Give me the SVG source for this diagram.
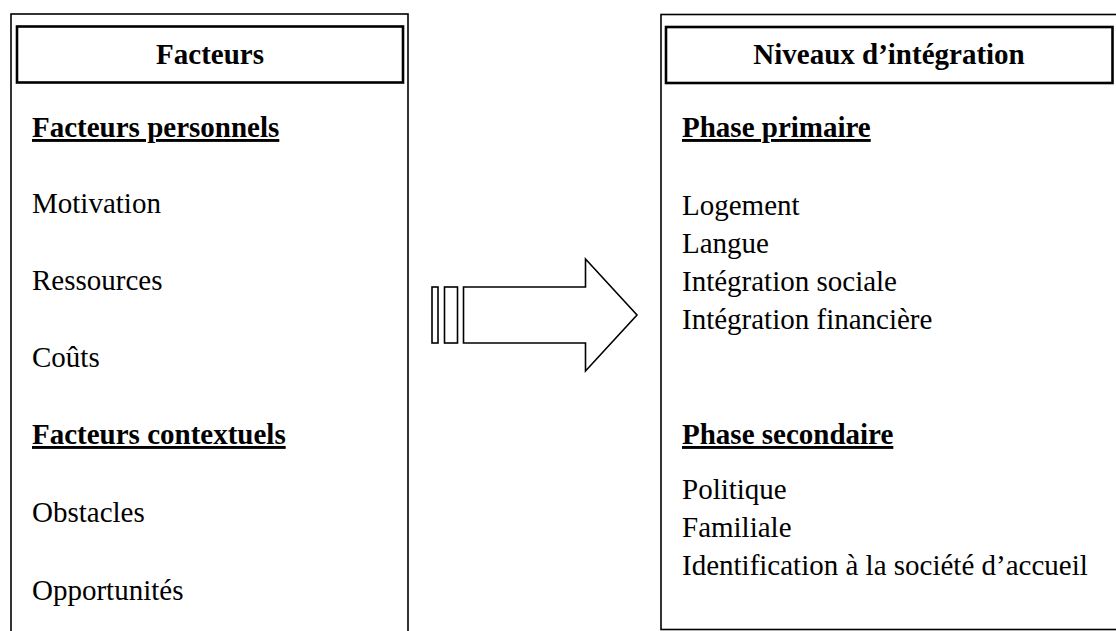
<svg xmlns="http://www.w3.org/2000/svg" width="1116" height="631" viewBox="0 0 1116 631">
<style>
  .frame { fill: none; stroke: #000; stroke-width: 1.6; }
  .head { fill: none; stroke: #000; stroke-width: 2.6; }
  .t { font-family: "Liberation Serif", "Times New Roman", serif; font-size: 29px; fill: #000; }
  .b { font-weight: bold; }
  .u { text-decoration: underline; }
  .arrow { fill: #fff; stroke: #000; stroke-width: 1.6; stroke-linejoin: miter; }
</style>
<rect width="1116" height="631" fill="#fff"/>
<g id="facteurs">
  <rect class="frame" x="11" y="14" width="397" height="640"/>
  <rect class="head" x="17" y="26.5" width="386" height="56"/>
  <text class="t b" x="210" y="64" text-anchor="middle">Facteurs</text>
  <text class="t b u" x="32" y="137">Facteurs personnels</text>
  <text class="t" x="32" y="213">Motivation</text>
  <text class="t" x="32" y="290">Ressources</text>
  <text class="t" x="32" y="367">Coûts</text>
  <text class="t b u" x="32" y="444">Facteurs contextuels</text>
  <text class="t" x="32" y="522">Obstacles</text>
  <text class="t" x="32" y="600">Opportunités</text>
</g>
<g id="connectors">
  <rect class="arrow" x="432" y="287" width="6" height="56"/>
  <rect class="arrow" x="444.5" y="287" width="13" height="56"/>
  <polygon class="arrow" points="463.5,287 585.5,287 585.5,259 637,315 585.5,371 585.5,343 463.5,343"/>
</g>
<g id="niveaux">
  <rect class="frame" x="661" y="14.5" width="470" height="615"/>
  <rect class="head" x="666" y="27" width="446.5" height="56"/>
  <text class="t b" x="889" y="64" text-anchor="middle">Niveaux d’intégration</text>
  <text class="t b u" x="682" y="137">Phase primaire</text>
  <text class="t" x="682" y="215">Logement</text>
  <text class="t" x="682" y="253">Langue</text>
  <text class="t" x="682" y="291">Intégration sociale</text>
  <text class="t" x="682" y="329">Intégration financière</text>
  <text class="t b u" x="682" y="444">Phase secondaire</text>
  <text class="t" x="682" y="499">Politique</text>
  <text class="t" x="682" y="537">Familiale</text>
  <text class="t" x="682" y="575">Identification à la société d’accueil</text>
</g>
</svg>
